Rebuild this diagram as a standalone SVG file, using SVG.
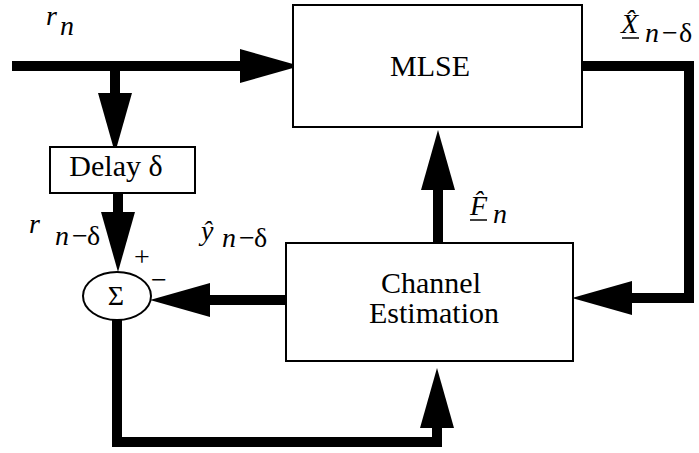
<svg xmlns="http://www.w3.org/2000/svg" width="699" height="453" viewBox="0 0 699 453">
  <defs>
    <style>
      .box { fill: #fff; stroke: #000; stroke-width: 2; }
      .wire { fill: none; stroke: #000; stroke-width: 10; stroke-linejoin: miter; stroke-linecap: butt; }
      text { fill: #000; }
      .lbl { font-size: 30px; }
      .math { font-size: 28px; }
      .it { font-style: italic; }
      .uline { stroke: #000; stroke-width: 1.5; }
    </style>
    <marker id="head" viewBox="0 0 6 3.4" refX="0" refY="1.7" markerWidth="6" markerHeight="3.4" markerUnits="strokeWidth" orient="auto">
      <path d="M0,0 L6,1.7 L0,3.4 Z" fill="#000"/>
    </marker>
  </defs>

  <rect width="699" height="453" fill="#fff"/>

  <!-- signal connectors -->
  <g id="connectors">
    <path class="wire" d="M12,66 H240" marker-end="url(#head)"/>
    <path class="wire" d="M115,66 V93" marker-end="url(#head)"/>
    <path class="wire" d="M118,193 V212" marker-end="url(#head)"/>
    <path class="wire" d="M286,300 H210" marker-end="url(#head)"/>
    <path class="wire" d="M438,243 V190" marker-end="url(#head)"/>
    <path class="wire" d="M582,66 H689 V298 H632" marker-end="url(#head)"/>
    <path class="wire" d="M117,320 V442 H437 V428" marker-end="url(#head)"/>
  </g>

  <g font-family="Liberation Serif, serif">
    <g id="mlse">
      <rect class="box" x="293" y="5" width="289" height="122"/>
      <text class="lbl" x="430" y="76" text-anchor="middle">MLSE</text>
    </g>

    <g id="delay">
      <rect class="box" x="50" y="147" width="145" height="46"/>
      <text class="lbl" x="116" y="176" text-anchor="middle">Delay δ</text>
    </g>

    <g id="channel-estimation">
      <rect class="box" x="286" y="243" width="287" height="118"/>
      <text class="lbl" x="431" y="293" text-anchor="middle">Channel</text>
      <text class="lbl" x="434" y="323" text-anchor="middle">Estimation</text>
    </g>

    <g id="summer">
      <ellipse class="box" cx="117" cy="296" rx="34" ry="24"/>
      <text class="math" x="116" y="305" text-anchor="middle">Σ</text>
      <text class="math" x="142" y="266" text-anchor="middle">+</text>
      <text class="math" x="159" y="289" text-anchor="middle">−</text>
    </g>

    <!-- signal labels -->
    <g id="labels">
      <text class="math it" x="46" y="25">r</text>
      <text class="math it" x="60" y="35">n</text>

      <text class="math it" x="29" y="233">r</text>
      <text class="math it" x="55" y="245">n</text>
      <text class="math" x="72" y="245">−</text>
      <text class="math" x="87" y="245">δ</text>

      <text class="math it" x="201" y="240">ŷ</text>
      <text class="math it" x="222" y="247">n</text>
      <text class="math" x="239" y="247">−</text>
      <text class="math" x="254" y="247">δ</text>

      <text class="math it" x="621" y="33">X̂</text>
      <line class="uline" x1="622" y1="38" x2="639" y2="38"/>
      <text class="math it" x="645" y="42">n</text>
      <text class="math" x="662" y="42">−</text>
      <text class="math" x="679" y="42">δ</text>

      <text class="math it" x="470" y="215">F̂</text>
      <line class="uline" x1="470" y1="220" x2="487" y2="220"/>
      <text class="math it" x="493" y="223">n</text>
    </g>
  </g>
</svg>
